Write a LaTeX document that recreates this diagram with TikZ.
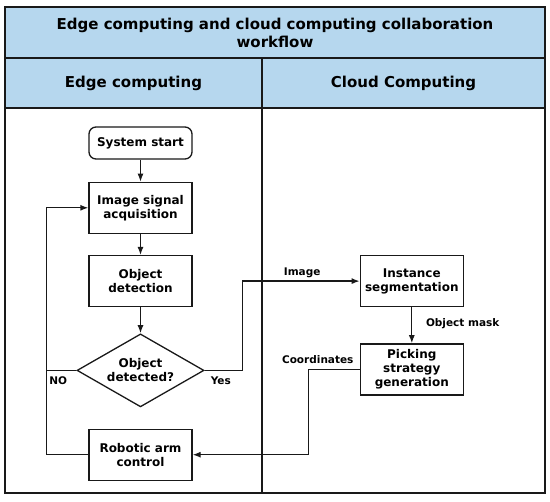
\documentclass[tikz,border=0pt]{standalone}
\usepackage{fontspec}
\setmainfont{DejaVu Sans}
\usetikzlibrary{shapes.geometric, arrows.meta, positioning, calc}
\definecolor{laneblue}{RGB}{182,215,238}

\begin{document}
\begin{tikzpicture}[x=1pt, y=-1pt, node distance=22pt,
          band/.style={rectangle, draw=black!90, fill=laneblue, line width=1.4pt, align=center, font=\bfseries\fontsize{15}{18}\selectfont},
          stepbox/.style={rectangle, draw=black!90, line width=1.3pt, minimum width=103pt, minimum height=51pt, align=center, font=\bfseries\fontsize{12}{14}\selectfont},
          startbox/.style={stepbox, rounded corners=7pt, minimum height=32pt},
          decision/.style={diamond, draw=black!90, line width=1.3pt, aspect=1.74, inner sep=0pt, minimum width=127pt, minimum height=73pt, align=center, font=\bfseries\fontsize{12}{14}\selectfont},
          lbl/.style={font=\bfseries\fontsize{10.5}{12}\selectfont, inner sep=1pt},
          link/.style={line width=1.3pt, color=black!90},
          arrow/.style={link, -{Latex[length=8pt,width=6pt]}}]

        \useasboundingbox (0,0) rectangle (550,502);

        \draw [line width=1.4pt, draw=black!90] (5,108) rectangle (262,493);
        \draw [line width=1.4pt, draw=black!90] (262,108) rectangle (545,493);

        \node [band, minimum width=540pt, minimum height=51pt] (title) at (275,32.5) {Edge computing and cloud computing collaboration\\workflow};
        \node [band, minimum width=257pt, minimum height=50pt] (edgehd) at (133.5,83) {Edge computing};
        \node [band, minimum width=283pt, minimum height=50pt] (cloudhd) at (403.5,83) {Cloud Computing};

        \node [startbox] (start) at (140.5,143) {System start};
        \node [stepbox, below=22pt of start] (acq) {Image signal\\acquisition};
        \node [stepbox, below=21pt of acq] (det) {Object\\detection};
        \node [decision, below=26pt of det] (dec) {Object\\detected?};
        \node [stepbox, below=21pt of dec] (robot) {Robotic arm\\control};
        \node [stepbox, right=167pt of det] (seg) {Instance\\segmentation};
        \node [stepbox, below=36pt of seg] (pick) {Picking\\strategy\\generation};

        \node [lbl, below left=5pt and 8pt of dec.west] (nolbl) {NO};
        \node [lbl, below right=5pt and 5pt of dec.east] (yeslbl) {Yes};
        \node [lbl, above left=2pt and 38pt of seg.west] (imglbl) {Image};
        \node [lbl, below right=10pt and 13pt of seg.south] (masklbl) {Object mask};
        \node [lbl, above left=5pt and 5pt of pick.west] (coordlbl) {Coordinates};

        \coordinate [left=42pt of robot.west] (back);

        \draw [arrow] (start) -- (acq);
        \draw [arrow] (acq) -- (det);
        \draw [arrow] (det) -- (dec);
        \draw [arrow] (dec.east) -- ++(38,0) |- (seg.west);
        \draw [arrow] (seg) -- (pick);
        \draw [arrow] (pick.west) -- ++(-51,0) |- (robot.east);
        \draw [arrow] (robot.west) -- (back) |- (acq.west);
        \draw [link] (dec.west) -- (dec.west -| back);
      \end{tikzpicture}
\end{document}
